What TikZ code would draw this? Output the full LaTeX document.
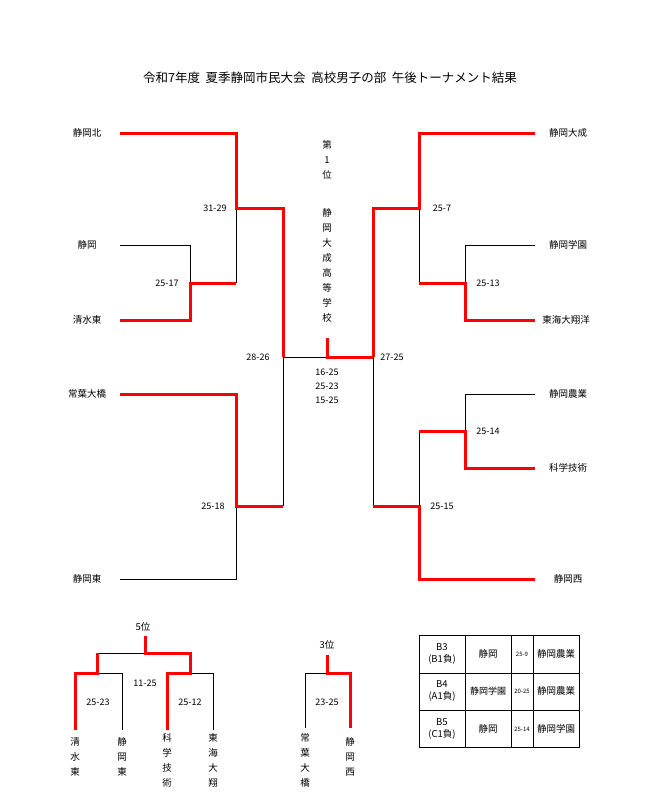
\documentclass[tikz,border=0pt]{standalone}
\usepackage{fontspec}
\setmainfont{Noto Sans CJK JP}
\usetikzlibrary{positioning}
\begin{document}
\begin{tikzpicture}[x=1pt, y=-1pt, font=\fontsize{9.5}{10}\selectfont]
\tikzstyle{win}=[draw=red, line width=3pt]
\tikzstyle{lose}=[draw=black, line width=0.8pt]
\tikzstyle{team}=[inner sep=0pt]
\tikzstyle{score}=[inner sep=1pt, font=\fontsize{9}{9}\selectfont]
\tikzstyle{vtext}=[inner sep=0pt, align=center, font=\fontsize{9.5}{15}\selectfont]
\useasboundingbox (0,0) rectangle (660,795);

\node[font=\fontsize{12.5}{13}\selectfont] (title) at (330,78) {令和7年度\ \ 夏季静岡市民大会\ \ 高校男子の部\ \ 午後トーナメント結果};

% left side
\node[team] (L1) at (87,133) {静岡北};
\node[team] (L2) at (87,245) {静岡};
\node[team] (L3) at (87,320) {清水東};
\node[team] (L4) at (87,394) {常葉大橋};
\node[team] (L5) at (87,579) {静岡東};
\draw[lose] (120,245) -| (190,283);
\draw[lose] (236,208) -- (236,283);
\draw[lose] (120,579) -| (236,506);
\draw[lose] (283,357) -- (283,506);
\draw[win] (120,133) -| (236,208) -| (283,357);
\draw[win] (120,320) -| (190,283) -- (236,283);
\draw[win] (120,394) -| (236,506) -- (283,506);
\node[score] (s1) at (215,208) {31-29};
\node[score] (s2) at (167,283) {25-17};
\node[score] (s3) at (258,357) {28-26};
\node[score] (s4) at (213,506) {25-18};

% right side
\node[team] (R1) at (568,133) {静岡大成};
\node[team] (R2) at (568,245) {静岡学園};
\node[team] (R3) at (566,320) {東海大翔洋};
\node[team] (R4) at (568,394) {静岡農業};
\node[team] (R5) at (568,468) {科学技術};
\node[team] (R6) at (568,579) {静岡西};
\draw[lose] (535,245) -| (465,283);
\draw[lose] (419,208) -- (419,283);
\draw[lose] (535,394) -| (465,431);
\draw[lose] (419,431) -- (419,506);
\draw[lose] (373,357) -- (373,506);
\draw[win] (535,133) -| (419,208) -| (373,357);
\draw[win] (535,320) -| (465,283) -- (419,283);
\draw[win] (535,468) -| (465,431) -- (419,431);
\draw[win] (535,579) -| (419,506) -- (373,506);
\node[score] (s5) at (442,208) {25-7};
\node[score] (s6) at (488,283) {25-13};
\node[score] (s7) at (392,357) {27-25};
\node[score] (s8) at (488,431) {25-14};
\node[score] (s9) at (442,506) {25-15};

% final
\draw[lose] (283,357) -- (327,357);
\draw[win] (327,338) |- (373,357);
\node[vtext] (champ) at (327,160) {第\\1\\位};
\node[vtext] (champname) at (327,265) {静\\岡\\大\\成\\高\\等\\学\\校};
\node[score, align=center, font=\fontsize{9}{14}\selectfont] (fscore) at (327,386) {16-25\\25-23\\15-25};

% 5th place
\node[team] (five) at (143,627) {5位};
\draw[lose] (97,653) -- (145,653);
\draw[lose] (97,673) -| (122,730);
\draw[lose] (190,673) -| (213,730);
\draw[win] (145,636) -- (145,653) -| (190,673) -| (167,730);
\draw[win] (97,653) -- (97,673) -| (75,730);
\node[score] (s10) at (145,683) {11-25};
\node[score] (s11) at (98,702) {25-23};
\node[score] (s12) at (190,702) {25-12};
\node[vtext, anchor=north] (b1) at (75,737) {清\\水\\東};
\node[vtext, anchor=north] (b2) at (122,737) {静\\岡\\東};
\node[vtext, anchor=north] (b3) at (167,733) {科\\学\\技\\術};
\node[vtext, anchor=north] (b4) at (213,733) {東\\海\\大\\翔};

% 3rd place
\node[team] (three) at (327,645) {3位};
\draw[lose] (327,673) -| (305,728);
\draw[win] (327,655) -- (327,673) -| (350,728);
\node[score] (s13) at (327,702) {23-25};
\node[vtext, anchor=north] (b5) at (305,733) {常\\葉\\大\\橋};
\node[vtext, anchor=north] (b6) at (350,737) {静\\岡\\西};

% table
\draw[lose] (419,635) rectangle (579,747);
\foreach \y in {673,710} \draw[lose] (419,\y) -- (579,\y);
\foreach \x in {465,511,533} \draw[lose] (\x,635) -- (\x,747);
\node[align=center, font=\fontsize{9.5}{12}\selectfont] (t1) at (442,654) {B3\\(B1負)};
\node[align=center, font=\fontsize{9.5}{12}\selectfont] (t2) at (442,691) {B4\\(A1負)};
\node[align=center, font=\fontsize{9.5}{12}\selectfont] (t3) at (442,729) {B5\\(C1負)};
\node (t4) at (488,654) {静岡};
\node[inner sep=0pt, font=\fontsize{9}{10}\selectfont] (t5) at (488,691) {静岡学園};
\node (t6) at (488,729) {静岡};
\node[font=\fontsize{6}{6}\selectfont, inner sep=0pt] (t7) at (522,654) {25-9};
\node[font=\fontsize{6}{6}\selectfont, inner sep=0pt] (t8) at (522,691) {20-25};
\node[font=\fontsize{6}{6}\selectfont, inner sep=0pt] (t9) at (522,729) {25-14};
\node[inner sep=0pt, font=\fontsize{9.5}{10}\selectfont] (t10) at (556,654) {静岡農業};
\node[inner sep=0pt, font=\fontsize{9.5}{10}\selectfont] (t11) at (556,691) {静岡農業};
\node[inner sep=0pt, font=\fontsize{9.5}{10}\selectfont] (t12) at (556,729) {静岡学園};
\end{tikzpicture}
\end{document}
